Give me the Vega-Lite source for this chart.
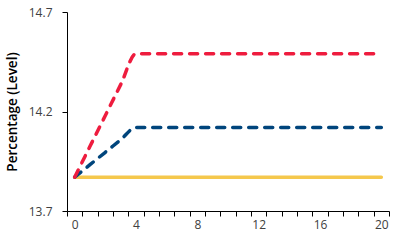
{
  "$schema": "https://vega.github.io/schema/vega-lite/v6.json",
  "autosize": "none",
  "width": 322,
  "height": 199,
  "padding": {"left": 67, "top": 12, "right": 6, "bottom": 32},
  "background": "white",
  "config": {
    "view": {"stroke": null},
    "font": "Open Sans",
    "axis": {"grid": false, "domainColor": "#000000", "tickColor": "#000000", "labelColor": "#404040", "labelFont": "Open Sans", "labelFontSize": 12, "titleFont": "Open Sans"}
  },
  "data": {
    "values": [
      {"x": 0, "series": "Baseline", "value": 13.87},
      {"x": 1, "series": "Baseline", "value": 13.87},
      {"x": 2, "series": "Baseline", "value": 13.87},
      {"x": 3, "series": "Baseline", "value": 13.87},
      {"x": 4, "series": "Baseline", "value": 13.87},
      {"x": 5, "series": "Baseline", "value": 13.87},
      {"x": 6, "series": "Baseline", "value": 13.87},
      {"x": 7, "series": "Baseline", "value": 13.87},
      {"x": 8, "series": "Baseline", "value": 13.87},
      {"x": 9, "series": "Baseline", "value": 13.87},
      {"x": 10, "series": "Baseline", "value": 13.87},
      {"x": 11, "series": "Baseline", "value": 13.87},
      {"x": 12, "series": "Baseline", "value": 13.87},
      {"x": 13, "series": "Baseline", "value": 13.87},
      {"x": 14, "series": "Baseline", "value": 13.87},
      {"x": 15, "series": "Baseline", "value": 13.87},
      {"x": 16, "series": "Baseline", "value": 13.87},
      {"x": 17, "series": "Baseline", "value": 13.87},
      {"x": 18, "series": "Baseline", "value": 13.87},
      {"x": 19, "series": "Baseline", "value": 13.87},
      {"x": 20, "series": "Baseline", "value": 13.87},
      {"x": 0, "series": "Scenario 1", "value": 13.87},
      {"x": 1, "series": "Scenario 1", "value": 13.933},
      {"x": 2, "series": "Scenario 1", "value": 13.995},
      {"x": 3, "series": "Scenario 1", "value": 14.058},
      {"x": 4, "series": "Scenario 1", "value": 14.12},
      {"x": 5, "series": "Scenario 1", "value": 14.12},
      {"x": 6, "series": "Scenario 1", "value": 14.12},
      {"x": 7, "series": "Scenario 1", "value": 14.12},
      {"x": 8, "series": "Scenario 1", "value": 14.12},
      {"x": 9, "series": "Scenario 1", "value": 14.12},
      {"x": 10, "series": "Scenario 1", "value": 14.12},
      {"x": 11, "series": "Scenario 1", "value": 14.12},
      {"x": 12, "series": "Scenario 1", "value": 14.12},
      {"x": 13, "series": "Scenario 1", "value": 14.12},
      {"x": 14, "series": "Scenario 1", "value": 14.12},
      {"x": 15, "series": "Scenario 1", "value": 14.12},
      {"x": 16, "series": "Scenario 1", "value": 14.12},
      {"x": 17, "series": "Scenario 1", "value": 14.12},
      {"x": 18, "series": "Scenario 1", "value": 14.12},
      {"x": 19, "series": "Scenario 1", "value": 14.12},
      {"x": 20, "series": "Scenario 1", "value": 14.12},
      {"x": 0, "series": "Scenario 2", "value": 13.87},
      {"x": 1, "series": "Scenario 2", "value": 14.025},
      {"x": 2, "series": "Scenario 2", "value": 14.18},
      {"x": 3, "series": "Scenario 2", "value": 14.335},
      {"x": 4, "series": "Scenario 2", "value": 14.49},
      {"x": 5, "series": "Scenario 2", "value": 14.49},
      {"x": 6, "series": "Scenario 2", "value": 14.49},
      {"x": 7, "series": "Scenario 2", "value": 14.49},
      {"x": 8, "series": "Scenario 2", "value": 14.49},
      {"x": 9, "series": "Scenario 2", "value": 14.49},
      {"x": 10, "series": "Scenario 2", "value": 14.49},
      {"x": 11, "series": "Scenario 2", "value": 14.49},
      {"x": 12, "series": "Scenario 2", "value": 14.49},
      {"x": 13, "series": "Scenario 2", "value": 14.49},
      {"x": 14, "series": "Scenario 2", "value": 14.49},
      {"x": 15, "series": "Scenario 2", "value": 14.49},
      {"x": 16, "series": "Scenario 2", "value": 14.49},
      {"x": 17, "series": "Scenario 2", "value": 14.49},
      {"x": 18, "series": "Scenario 2", "value": 14.49},
      {"x": 19, "series": "Scenario 2", "value": 14.49},
      {"x": 20, "series": "Scenario 2", "value": 14.49}
    ]
  },
  "mark": {"type": "line", "strokeWidth": 3.5, "strokeCap": "round", "interpolate": "monotone"},
  "encoding": {
    "x": {
      "field": "x", "type": "quantitative",
      "scale": {"domain": [-0.5, 20.5], "nice": false, "zero": false},
      "axis": {
        "title": null,
        "values": [-0.5, 0.5, 1.5, 2.5, 3.5, 4.5, 5.5, 6.5, 7.5, 8.5, 9.5, 10.5, 11.5, 12.5, 13.5, 14.5, 15.5, 16.5, 17.5, 18.5, 19.5, 20.5, 0, 4, 8, 12, 16, 20],
        "labelExpr": "datum.value % 4 == 0 ? datum.label : ''",
        "tickOpacity": {"condition": {"test": "datum.value % 1 == 0", "value": 0}, "value": 1},
        "tickSize": 5,
        "labelPadding": 3,
        "labelFlush": false,
        "labelOverlap": false
      }
    },
    "y": {
      "field": "value", "type": "quantitative",
      "scale": {"domain": [13.7, 14.7], "nice": false, "zero": false},
      "axis": {
        "title": "Percentage (Level)",
        "values": [13.7, 14.2, 14.7],
        "format": ".1f",
        "tickSize": 5,
        "labelPadding": 10,
        "titleFontSize": 13.5,
        "titleFontWeight": 600,
        "titleColor": "#000000",
        "titlePadding": 9
      }
    },
    "color": {
      "field": "series", "type": "nominal",
      "scale": {"domain": ["Baseline", "Scenario 1", "Scenario 2"], "range": ["#F5C84C", "#00457C", "#EE1C3E"]},
      "legend": null
    },
    "strokeDash": {
      "field": "series", "type": "nominal",
      "scale": {"domain": ["Baseline", "Scenario 1", "Scenario 2"], "range": [[1, 0], [8, 8], [8, 8]]},
      "legend": null
    }
  }
}
